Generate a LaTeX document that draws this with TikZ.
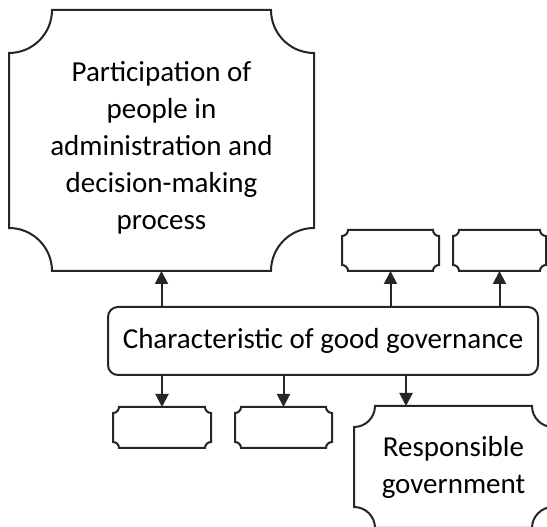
\documentclass[tikz,border=0pt]{standalone}
\usepackage{fontspec}
\setmainfont{Carlito}
\usetikzlibrary{arrows.meta}

% outline with notched (concave) corners round a named node
\newcommand{\plaqueframe}[2]{%
  \draw[frame] ([xshift=#2]#1.north west) -- ([xshift=-#2]#1.north east)
    arc[start angle=180, end angle=270, radius=#2]
    -- ([yshift=#2]#1.south east)
    arc[start angle=90, end angle=180, radius=#2]
    -- ([xshift=#2]#1.south west)
    arc[start angle=0, end angle=90, radius=#2]
    -- ([yshift=-#2]#1.north west)
    arc[start angle=270, end angle=360, radius=#2] -- cycle;}

\begin{document}
\begin{tikzpicture}[
    x=1pt, y=1pt,
    frame/.style={draw=black!85, line width=2pt},
    plaque/.style={rectangle, outer sep=0pt, inner sep=0pt, align=center,
        font=\fontsize{29}{37}\selectfont},
    hubbox/.style={frame, rectangle, rounded corners=10pt, outer sep=0pt,
        minimum width=430pt, minimum height=68pt, font=\fontsize{29}{37}\selectfont},
    link/.style={draw=black!85, line width=2pt, -{Triangle[length=13pt, width=13pt]}}
]
    \clip (0,0) rectangle (547,527);
    \fill[white] (0,0) rectangle (547,527);

    \node[plaque, minimum width=305pt, minimum height=261pt] (part) at (161.5,386.5) {};
    \node[plaque] (parttext) at (161.5,379)
        {Participation of\\people in\\administration and\\decision-making\\process};
    \node[plaque, minimum width=97pt, minimum height=41pt] (up1) at (390.5,276.5) {};
    \node[plaque, minimum width=93pt, minimum height=41pt] (up2) at (499.5,276.5) {};
    \node[hubbox] (hub) at (323,186) {Characteristic of good governance};
    \node[plaque, minimum width=98pt, minimum height=41pt] (down1) at (162,99.5) {};
    \node[plaque, minimum width=97pt, minimum height=41pt] (down2) at (283.5,99.5) {};
    \node[plaque, minimum width=199pt, minimum height=122pt] (resp) at (453.5,60)
        {Responsible\\government};

    \plaqueframe{part}{43pt}
    \plaqueframe{up1}{6pt}
    \plaqueframe{up2}{6pt}
    \plaqueframe{down1}{6pt}
    \plaqueframe{down2}{6pt}
    \plaqueframe{resp}{21pt}

    \draw[link] (hub.north -| part) -- (part.south);
    \draw[link] (hub.north -| up1) -- (up1.south);
    \draw[link] (hub.north -| up2) -- (up2.south);
    \draw[link] (hub.south -| down1) -- (down1.north);
    \draw[link] (hub.south -| down2) -- (down2.north);
    \draw[link] ([xshift=52pt]resp.north west |- hub.south) -- ([xshift=52pt]resp.north west);
\end{tikzpicture}
\end{document}
